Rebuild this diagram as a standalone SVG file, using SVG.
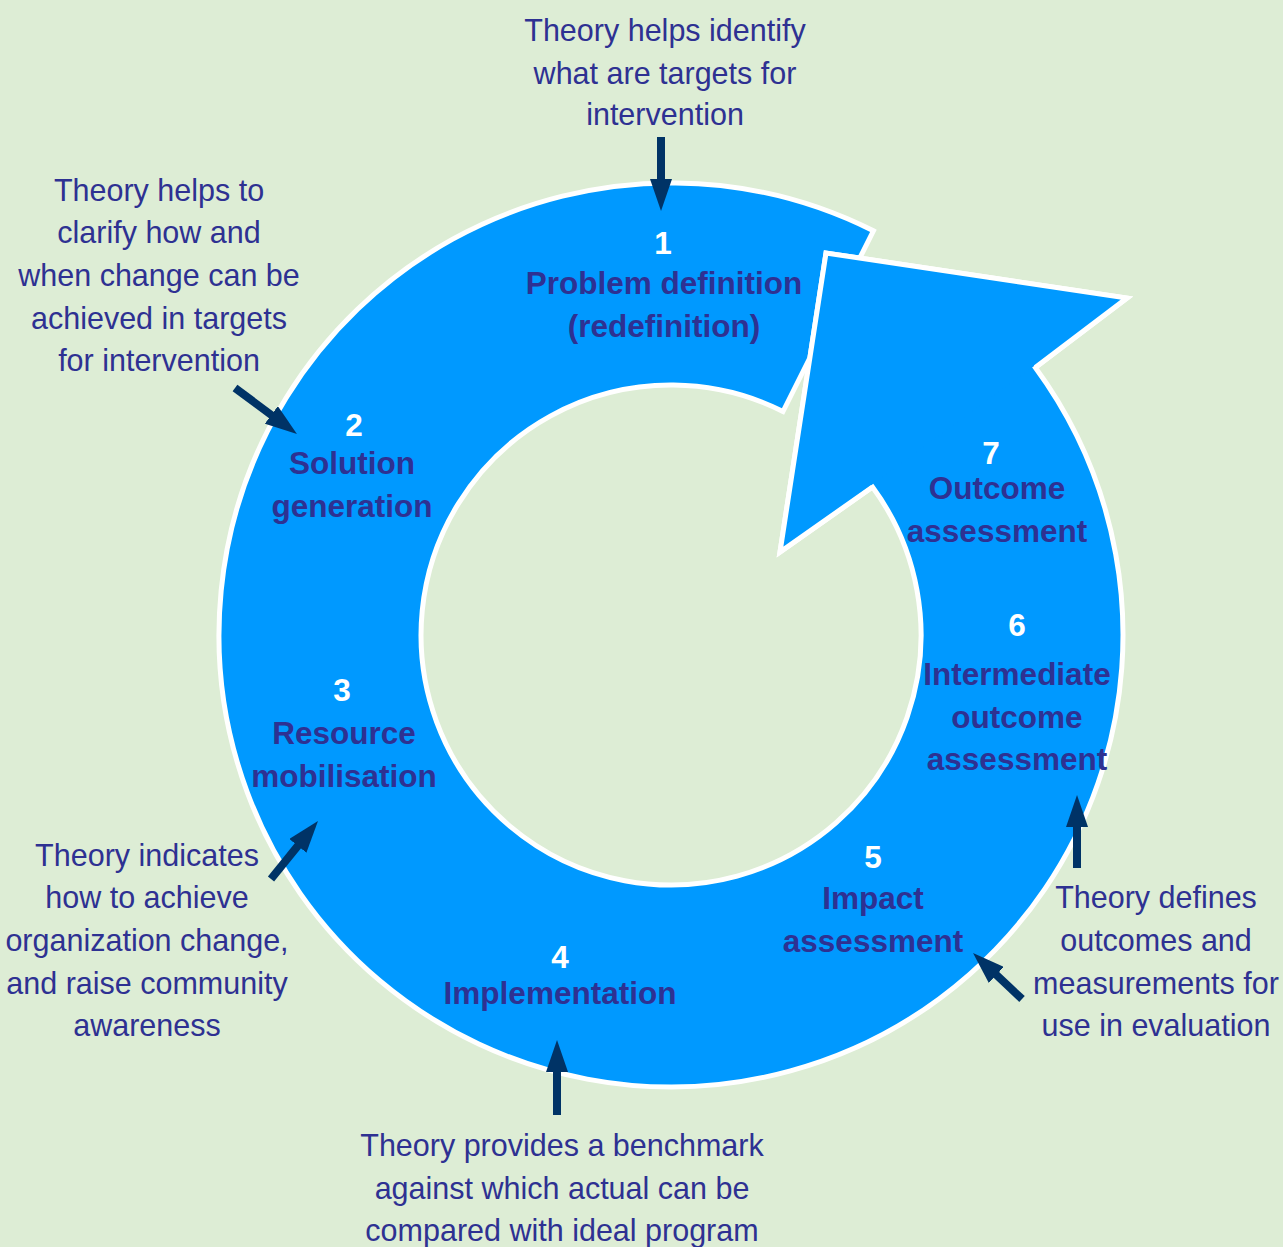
<svg xmlns="http://www.w3.org/2000/svg" width="1283" height="1247" viewBox="0 0 1283 1247">
<style>
.ring{fill:#0099FF;stroke:#FFFFFF;stroke-width:5;stroke-linejoin:miter}
.edge{fill:none;stroke:#FFFFFF;stroke-width:5;stroke-linejoin:miter}
.num{font-family:"Liberation Sans",Arial,sans-serif;font-weight:bold;font-size:31.5px;fill:#FFFFFF;text-anchor:middle}
.lbl{font-family:"Liberation Sans",Arial,sans-serif;font-weight:bold;font-size:31.5px;fill:#2E3192;text-anchor:middle}
.note{font-family:"Liberation Sans",Arial,sans-serif;font-size:30.5px;fill:#2E3192;text-anchor:middle}
.arr{stroke:#003366;stroke-width:8;fill:none;marker-end:url(#head)}
</style>
<defs>
<marker id="head" markerUnits="userSpaceOnUse" viewBox="0 0 32 22" markerWidth="32" markerHeight="22" refX="12" refY="11" orient="auto">
<path d="M0,0 L32,11 L0,22 Z" fill="#003366"/>
</marker>
</defs>
<rect width="1283" height="1247" fill="#DDEDD5"/>
<g id="cycle">
<path class="ring" d="M873.4,230.8 A452,452 0 1 0 1035.3,367.4 L1127,298 L826,253 L780,552 L872.5,487 A250,250 0 1 1 783,411.5 Z"/>
<polygon points="1127,298 826,253 780,552" fill="#0099FF"/>
<polyline class="edge" points="1035.3,367.4 1127,298 826,253 780,552 872.5,487"/>
</g>
<g id="node1"><text class="num" x="663" y="254">1</text><text class="lbl" x="664" y="294">Problem definition</text><text class="lbl" x="664" y="337">(redefinition)</text></g>
<g id="node2"><text class="num" x="354" y="436">2</text><text class="lbl" x="352" y="474">Solution</text><text class="lbl" x="352" y="517">generation</text></g>
<g id="node3"><text class="num" x="342" y="701">3</text><text class="lbl" x="344" y="744">Resource</text><text class="lbl" x="344" y="787">mobilisation</text></g>
<g id="node4"><text class="num" x="560" y="968">4</text><text class="lbl" x="560" y="1004">Implementation</text></g>
<g id="node5"><text class="num" x="873" y="868">5</text><text class="lbl" x="873" y="909">Impact</text><text class="lbl" x="873" y="952">assessment</text></g>
<g id="node6"><text class="num" x="1017" y="636">6</text><text class="lbl" x="1017" y="685">Intermediate</text><text class="lbl" x="1017" y="728">outcome</text><text class="lbl" x="1017" y="770">assessment</text></g>
<g id="node7"><text class="num" x="991" y="464">7</text><text class="lbl" x="997" y="499">Outcome</text><text class="lbl" x="997" y="542">assessment</text></g>
<g id="note-top"><text class="note" x="665" y="41">Theory helps identify</text><text class="note" x="665" y="84">what are targets for</text><text class="note" x="665" y="125">intervention</text></g>
<g id="note-left-top"><text class="note" x="159" y="201">Theory helps to</text><text class="note" x="159" y="243">clarify how and</text><text class="note" x="159" y="286">when change can be</text><text class="note" x="159" y="329">achieved in targets</text><text class="note" x="159" y="371">for intervention</text></g>
<g id="note-left-bottom"><text class="note" x="147" y="866">Theory indicates</text><text class="note" x="147" y="908">how to achieve</text><text class="note" x="147" y="951">organization change,</text><text class="note" x="147" y="994">and raise community</text><text class="note" x="147" y="1036">awareness</text></g>
<g id="note-right-bottom"><text class="note" x="1156" y="908">Theory defines</text><text class="note" x="1156" y="951">outcomes and</text><text class="note" x="1156" y="994">measurements for</text><text class="note" x="1156" y="1036">use in evaluation</text></g>
<g id="note-bottom"><text class="note" x="562" y="1156">Theory provides a benchmark</text><text class="note" x="562" y="1199">against which actual can be</text><text class="note" x="562" y="1241">compared with ideal program</text></g>
<g id="connectors">
<line class="arr" x1="661" y1="137" x2="661" y2="191"/>
<line class="arr" x1="235" y1="388" x2="280.9" y2="422.1"/>
<line class="arr" x1="271" y1="879" x2="305.4" y2="836.5"/>
<line class="arr" x1="557" y1="1115" x2="557" y2="1060"/>
<line class="arr" x1="1022" y1="999" x2="987.6" y2="966.7"/>
<line class="arr" x1="1077" y1="868" x2="1077" y2="815"/>
</g>
</svg>
